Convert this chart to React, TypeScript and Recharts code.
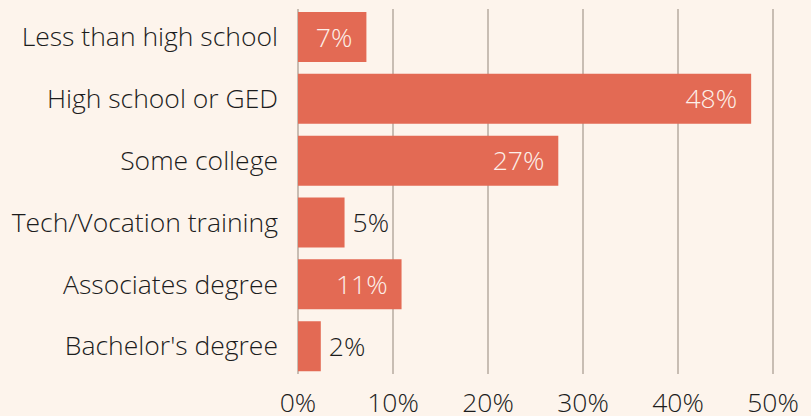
import { BarChart, Bar, XAxis, YAxis, CartesianGrid, LabelList } from "recharts";

const categories = [
  "Less than high school",
  "High school or GED",
  "Some college",
  "Tech/Vocation training",
  "Associates degree",
  "Bachelor's degree",
];
const shares = [7.2, 47.7, 27.4, 4.9, 10.9, 2.4];
const xTicks = [0, 10, 20, 30, 40, 50];

const data = categories.map((name, i) => ({ name, value: shares[i] }));

const FONT = "'Open Sans', sans-serif";
const BAR = "#e36a54";
const BG = "#fdf4ec";
const TEXT = "#1c1c1c";
const SIZE = 26.5;

// big bars get a white label inside the end, small ones a dark label outside
const ValueLabel = (props: any) => {
  const { x, y, width, height, value } = props;
  const inside = value >= 7;
  const cy = y + height / 2;
  return (
    <text
      x={inside ? x + width - 14 : x + width + 8}
      y={cy}
      dy="0.36em"
      textAnchor={inside ? "end" : "start"}
      fill={inside ? "#fdf0ea" : TEXT}
      fontFamily={FONT}
      fontWeight={300}
      fontSize={SIZE}
    >
      {Math.round(value)}%
    </text>
  );
};

const App = () => {
  return (
    <div style={{ width: 811, height: 416, background: BG }}>
      <style>{"body{margin:0}"}</style>
      <BarChart
        width={811}
        height={416}
        data={data}
        layout="vertical"
        margin={{ top: 9, right: 38, bottom: 0, left: 0 }}
        barCategoryGap={6}
      >
        <CartesianGrid vertical horizontal={false} stroke="#c8bdb3" strokeWidth={2} />
        <XAxis
          type="number"
          domain={[0, 50]}
          ticks={xTicks}
          tickFormatter={(v) => `${v}%`}
          axisLine={false}
          tickLine={false}
          height={42}
          tickMargin={13}
          tick={{ fill: TEXT, fontFamily: FONT, fontWeight: 300, fontSize: SIZE }}
        />
        <YAxis
          type="category"
          dataKey="name"
          width={298}
          axisLine={false}
          tickLine={false}
          tickMargin={14}
          padding={{ top: -3, bottom: -3 }}
          tick={{ fill: TEXT, fontFamily: FONT, fontWeight: 300, fontSize: SIZE }}
        />
        <Bar dataKey="value" fill={BAR} isAnimationActive={false}>
          <LabelList dataKey="value" content={<ValueLabel />} />
        </Bar>
      </BarChart>
    </div>
  );
};

export default App;
